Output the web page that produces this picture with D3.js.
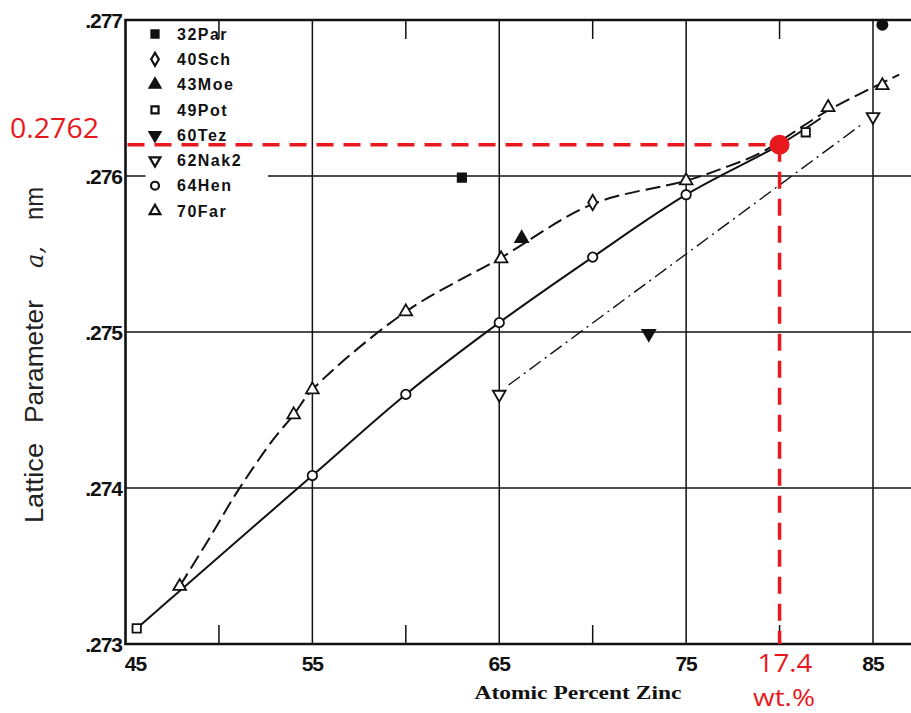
<!DOCTYPE html>
<html><head><meta charset="utf-8">
<script src="https://cdn.jsdelivr.net/npm/d3@7"></script>
<style>body{margin:0;background:#fff}svg{display:block}</style>
</head><body>
<script>
// ---- data (atomic % Zn, lattice parameter a in nm) ----
const xTicks = [45, 55, 65, 75, 85];
const xMinorTicks = [50, 60, 70, 80];
const yTicks = [0.273, 0.274, 0.275, 0.276, 0.277];
const yTickLabels = [".273", ".274", ".275", ".276", ".277"];
const legendLabels = ["32Par", "40Sch", "43Moe", "49Pot", "60Tez", "62Nak2", "64Hen", "70Far"];
const par32 = [[63.0, 0.27599]];
const sch40 = [[70.0, 0.27583]];
const moe43 = [[66.2, 0.27560]];
const pot49 = [[45.6, 0.27310], [81.4, 0.27628]];
const tez60 = [[73.0, 0.27499]];
const nak62 = [[65.0, 0.27460], [85.0, 0.27638]];
const hen64 = [[55.0, 0.27408], [60.0, 0.27460], [65.0, 0.27506], [70.0, 0.27548], [75.0, 0.27588]];
const far70 = [[47.9, 0.27337], [54.0, 0.27447], [55.0, 0.27463], [60.0, 0.27513], [65.1, 0.27547], [75.0, 0.27597], [82.6, 0.27644], [85.5, 0.27658]];
const extraDot = [[85.5, 0.27697]];
// fitted curves
const solidCurve = [[45.6, 0.27310], [47.9, 0.27334], [55.0, 0.27408], [60.0, 0.27460], [65.0, 0.27506], [70.0, 0.27548], [75.0, 0.27588], [80.0, 0.27620], [82.2, 0.27637]];
const dashedCurve = [[47.9, 0.27337], [49.5, 0.27368], [51.0, 0.27398], [52.9, 0.27431], [54.0, 0.27447], [55.0, 0.27463], [60.0, 0.27513], [65.0, 0.27547], [70.0, 0.27582], [75.0, 0.27597], [77.2, 0.27606], [79.0, 0.27615], [82.6, 0.27642], [86.4, 0.27665]];
const dashDotLine = [[65.5, 0.27466], [84.5, 0.27634]];
const highlight = {x: 80.0, y: 0.2762, yLabel: "0.2762", xLabel: "17.4", xUnit: "wt.%"};

const W = 911, H = 713;
const svg = d3.select("body").append("svg").attr("width", W).attr("height", H);
const x = d3.scaleLinear().domain([45, 85]).range([125.5, 873]);
const y = d3.scaleLinear().domain([0.273, 0.277]).range([644, 20]);
const L = 125.5, R = 911, T = 20, B = 644;
const ink = "#111";

// grid
const g = svg.append("g");
g.selectAll(".vg").data(xTicks.slice(1)).join("line")
  .attr("x1", d => x(d)).attr("x2", d => x(d)).attr("y1", T).attr("y2", B)
  .attr("stroke", ink).attr("stroke-width", 1.5);
g.selectAll(".hg").data([0.274, 0.275]).join("line")
  .attr("x1", L).attr("x2", R).attr("y1", d => y(d)).attr("y2", d => y(d))
  .attr("stroke", ink).attr("stroke-width", 1.5);
// .276 line interrupted by legend
g.append("line").attr("x1", L).attr("x2", L + 20).attr("y1", y(0.276)).attr("y2", y(0.276)).attr("stroke", ink).attr("stroke-width", 1.5);
g.append("line").attr("x1", 268).attr("x2", R).attr("y1", y(0.276)).attr("y2", y(0.276)).attr("stroke", ink).attr("stroke-width", 1.5);
// minor ticks top/bottom
g.selectAll(".tt").data(xMinorTicks).join("line")
  .attr("x1", d => x(d)).attr("x2", d => x(d)).attr("y1", T).attr("y2", T + 19)
  .attr("stroke", ink).attr("stroke-width", 1.5);
g.selectAll(".bt").data(xMinorTicks).join("line")
  .attr("x1", d => x(d)).attr("x2", d => x(d)).attr("y1", B).attr("y2", B - 19)
  .attr("stroke", ink).attr("stroke-width", 1.5);
// frame
g.append("path").attr("d", `M${R},${T}H${L}V${B}H${R}`).attr("fill", "none").attr("stroke", ink).attr("stroke-width", 2.6);

// tick labels
const tickFont = "'Liberation Sans', Arial, sans-serif";
svg.selectAll(".yl").data(yTicks).join("text")
  .attr("x", 122).attr("y", d => y(d)).attr("dy", "0.36em")
  .attr("text-anchor", "end").attr("font-family", tickFont).attr("font-weight", "bold")
  .attr("font-size", 21).attr("letter-spacing", -1).attr("fill", ink)
  .text((d, i) => yTickLabels[i]);
svg.selectAll(".xl").data(xTicks).join("text")
  .attr("x", d => x(d) + (d === 45 ? 10 : 0)).attr("y", 663).attr("dy", "0.36em")
  .attr("text-anchor", "middle").attr("font-family", tickFont).attr("font-weight", "bold")
  .attr("font-size", 21).attr("letter-spacing", -1).attr("fill", ink)
  .text(d => d);

// axis titles
svg.append("text").attr("x", 578).attr("y", 699).attr("text-anchor", "middle")
  .attr("font-family", "'Liberation Serif', 'Times New Roman', serif").attr("font-weight", "bold").attr("font-size", 19)
  .attr("textLength", 207).attr("lengthAdjust", "spacingAndGlyphs").attr("fill", ink)
  .text("Atomic Percent Zinc");
const yt = svg.append("g").attr("transform", "translate(43,0) rotate(-90)")
  .attr("font-family", "'Liberation Sans', Arial, sans-serif").attr("font-size", 25).attr("fill", "#222");
yt.append("text").attr("x", -523).attr("textLength", 80).attr("lengthAdjust", "spacingAndGlyphs").text("Lattice");
yt.append("text").attr("x", -423).attr("textLength", 123).attr("lengthAdjust", "spacingAndGlyphs").text("Parameter");
yt.append("text").attr("x", -268).attr("font-family", "'DejaVu Serif', serif").attr("font-style", "italic").attr("font-size", 24).text("a,");
yt.append("text").attr("x", -220).attr("textLength", 33).attr("lengthAdjust", "spacingAndGlyphs").text("nm");

// curves
const line = d3.line().x(d => x(d[0])).y(d => y(d[1]));
const curveLine = d3.line().x(d => x(d[0])).y(d => y(d[1])).curve(d3.curveCatmullRom.alpha(0.5));
svg.append("path").attr("d", curveLine(solidCurve)).attr("fill", "none").attr("stroke", ink).attr("stroke-width", 2);
svg.append("path").attr("d", curveLine(dashedCurve)).attr("fill", "none").attr("stroke", ink).attr("stroke-width", 2).attr("stroke-dasharray", "15,6");
svg.append("path").attr("d", line(dashDotLine)).attr("fill", "none").attr("stroke", ink).attr("stroke-width", 1.4).attr("stroke-dasharray", "14,5,2,5");

// markers
const sym = {
  par32: {type: d3.symbolSquare, size: 70, fill: ink},
  sch40: {type: d3.symbolDiamond, size: 70, fill: "#fff"},
  moe43: {type: d3.symbolTriangle, size: 70, fill: ink},
  pot49: {type: d3.symbolSquare, size: 70, fill: "#fff"},
  tez60: {type: d3.symbolTriangle, size: 70, fill: ink, rot: 180},
  nak62: {type: d3.symbolTriangle, size: 70, fill: "#fff", rot: 180},
  hen64: {type: d3.symbolCircle, size: 70, fill: "#fff"},
  far70: {type: d3.symbolTriangle, size: 70, fill: "#fff"}
};
const seriesData = {par32, sch40, moe43, pot49, tez60, nak62, hen64, far70};
Object.keys(seriesData).forEach(k => {
  const s = sym[k];
  svg.selectAll(".m-" + k).data(seriesData[k]).join("path")
    .attr("d", d3.symbol().type(s.type).size(s.size)())
    .attr("transform", d => `translate(${x(d[0])},${y(d[1])}) rotate(${s.rot || 0})`)
    .attr("fill", s.fill).attr("stroke", ink).attr("stroke-width", 1.8);
});
svg.selectAll(".xd").data(extraDot).join("circle")
  .attr("cx", d => x(d[0])).attr("cy", d => y(d[1])).attr("r", 6).attr("fill", ink);

// legend
const legY = d3.scaleLinear().domain([0, 7]).range([34, 211]);
const lg = svg.append("g");
Object.keys(seriesData).forEach((k, i) => {
  const s = sym[k];
  lg.append("path").attr("d", d3.symbol().type(s.type).size(50)())
    .attr("transform", `translate(155,${legY(i)}) rotate(${s.rot || 0})`)
    .attr("fill", s.fill).attr("stroke", ink).attr("stroke-width", 2.2);
  lg.append("text").attr("x", 177).attr("y", legY(i)).attr("dy", "0.36em")
    .attr("font-family", tickFont).attr("font-weight", "bold").attr("font-size", 16)
    .attr("letter-spacing", 1.5).attr("fill", ink).text(legendLabels[i]);
});

// red highlight
const red = "#e8191e";
const redFont = "'Open Sans', 'Noto Sans', sans-serif";
svg.append("line").attr("x1", L + 2).attr("x2", x(highlight.x)).attr("y1", y(highlight.y)).attr("y2", y(highlight.y))
  .attr("stroke", red).attr("stroke-width", 3.5).attr("stroke-dasharray", "17,10");
svg.append("line").attr("x1", x(highlight.x)).attr("x2", x(highlight.x)).attr("y1", y(highlight.y)).attr("y2", B)
  .attr("stroke", red).attr("stroke-width", 3.5).attr("stroke-dasharray", "17,10");
svg.append("circle").attr("cx", x(highlight.x)).attr("cy", y(highlight.y)).attr("r", 10).attr("fill", red);
svg.append("text").attr("x", 10).attr("y", 138)
  .attr("font-family", redFont).attr("font-size", 27).attr("fill", red)
  .attr("textLength", 89).attr("lengthAdjust", "spacingAndGlyphs").text(highlight.yLabel);
svg.append("text").attr("x", 785).attr("y", 672).attr("text-anchor", "middle")
  .attr("font-family", redFont).attr("font-size", 25).attr("fill", red)
  .attr("textLength", 55).attr("lengthAdjust", "spacingAndGlyphs")
  .text(highlight.xLabel);
svg.append("text").attr("x", 784).attr("y", 706).attr("text-anchor", "middle")
  .attr("font-family", redFont).attr("font-size", 24).attr("fill", red)
  .attr("textLength", 62).attr("lengthAdjust", "spacingAndGlyphs")
  .text(highlight.xUnit);
</script>
</body></html>
